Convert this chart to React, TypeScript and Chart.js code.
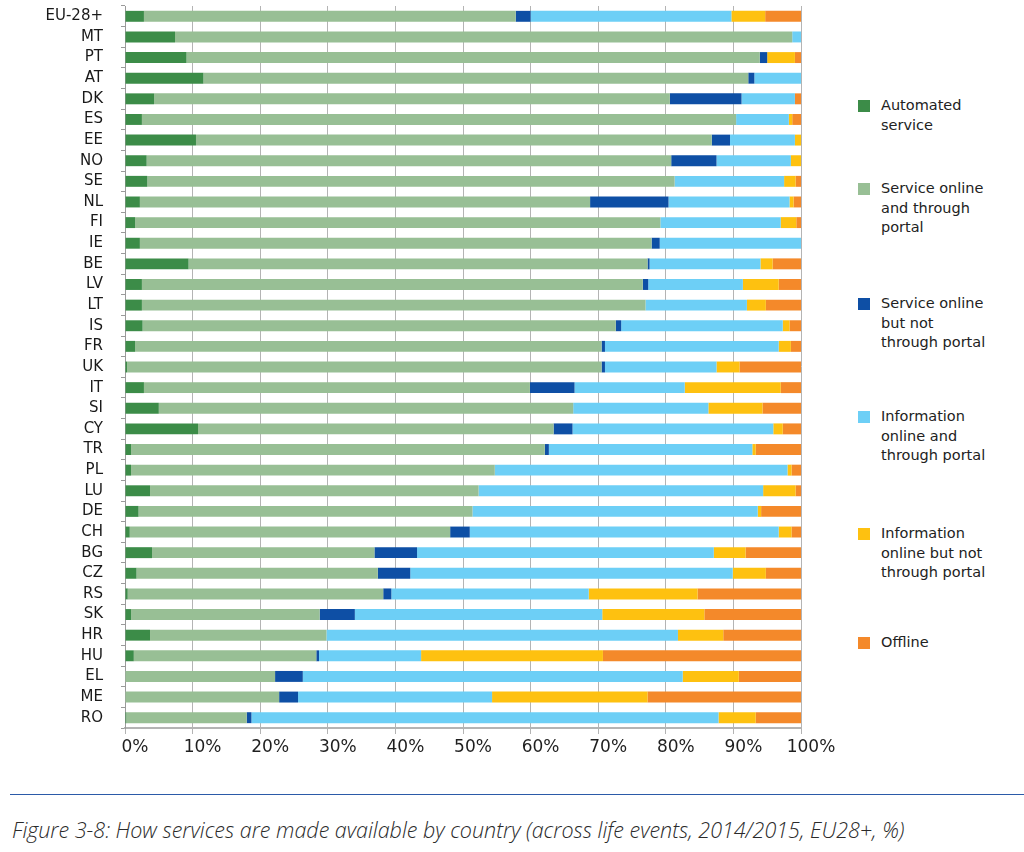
import React, { useEffect, useRef } from "react";
import { Chart, registerables } from "chart.js";

Chart.register(...registerables);

const countries = [
  "EU-28+", "MT", "PT", "AT", "DK", "ES", "EE", "NO", "SE", "NL", "FI", "IE",
  "BE", "LV", "LT", "IS", "FR", "UK", "IT", "SI", "CY", "TR", "PL", "LU", "DE",
  "CH", "BG", "CZ", "RS", "SK", "HR", "HU", "EL", "ME", "RO",
];

const automatedService = [
  2.8, 7.4, 9.1, 11.6, 4.3, 2.5, 10.5, 3.2, 3.3, 2.2, 1.5, 2.2,
  9.4, 2.5, 2.5, 2.6, 1.5, 0.3, 2.8, 5.0, 10.8, 0.9, 0.9, 3.7, 2.0,
  0.7, 4.0, 1.7, 0.4, 0.9, 3.7, 1.3, 0, 0, 0.2,
];
const serviceOnlinePortal = [
  55.0, 91.3, 84.8, 80.6, 76.3, 87.9, 76.3, 77.6, 78.0, 66.6, 77.7, 75.7,
  67.9, 74.1, 74.5, 70.0, 69.0, 70.2, 57.1, 61.3, 52.6, 61.2, 53.8, 48.6, 49.4,
  47.4, 32.9, 35.7, 37.8, 27.9, 26.1, 27.0, 22.2, 22.8, 17.8,
];
const serviceOnlineNoPortal = [
  2.2, 0, 1.1, 0.9, 10.6, 0, 2.7, 6.7, 0, 11.6, 0, 1.2,
  0.3, 0.8, 0, 0.8, 0.5, 0.5, 6.6, 0, 2.8, 0.6, 0, 0, 0,
  2.9, 6.3, 4.8, 1.2, 5.2, 0, 0.4, 4.1, 2.8, 0.7,
];
const infoOnlinePortal = [
  29.7, 1.3, 0, 6.9, 7.9, 7.8, 9.6, 11.0, 16.2, 17.9, 17.8, 20.9,
  16.4, 14.0, 15.0, 23.9, 25.7, 16.5, 16.3, 20.0, 29.7, 30.1, 43.3, 42.1, 42.2,
  45.7, 43.9, 47.7, 29.2, 36.6, 52.0, 15.1, 56.2, 28.7, 69.1,
];
const infoOnlineNoPortal = [
  5.0, 0, 4.1, 0, 0, 0.5, 0.9, 1.5, 1.7, 0.6, 2.3, 0,
  1.8, 5.3, 2.8, 1.0, 1.8, 3.4, 14.2, 8.0, 1.4, 0.5, 0.6, 4.8, 0.5,
  1.9, 4.7, 4.9, 16.1, 15.1, 6.7, 26.9, 8.3, 23.0, 5.5,
];
const offline = [
  5.3, 0, 0.9, 0, 0.9, 1.3, 0, 0, 0.8, 1.1, 0.7, 0,
  4.2, 3.3, 5.2, 1.7, 1.5, 9.1, 3.0, 5.7, 2.7, 6.7, 1.4, 0.8, 5.9,
  1.4, 8.2, 5.2, 15.3, 14.3, 11.5, 29.3, 9.2, 22.7, 6.7,
];

const xTickValues = [0, 10, 20, 30, 40, 50, 60, 70, 80, 90, 100];

const seriesNames = [
  ["Automated", "service"],
  ["Service online", "and through", "portal"],
  ["Service online", "but not", "through portal"],
  ["Information", "online and", "through portal"],
  ["Information", "online but not", "through portal"],
  ["Offline"],
];
const seriesColors = ["#3c8c48", "#98bf95", "#0e4fa5", "#6dcff6", "#fec110", "#f4892a"];
const seriesData = [
  automatedService,
  serviceOnlinePortal,
  serviceOnlineNoPortal,
  infoOnlinePortal,
  infoOnlineNoPortal,
  offline,
];
const legendTops = [106, 189, 304, 417, 534, 643];

const caption =
  "Figure 3-8: How services are made available by country (across life events, 2014/2015, EU28+, %)";

const CANVAS_W = 850;
const CANVAS_H = 780;
const PLOT_LEFT = 125;
const PLOT_RIGHT = 801;
const PLOT_TOP = 6;
const PLOT_BOTTOM = 728;

export default function App() {
  const canvasRef = useRef<HTMLCanvasElement | null>(null);

  useEffect(() => {
    const canvas = canvasRef.current;
    if (!canvas) return;
    const chart = new Chart(canvas, {
      type: "bar",
      data: {
        labels: countries,
        datasets: seriesData.map((d, i) => ({
          label: seriesNames[i].join(" "),
          data: d,
          backgroundColor: seriesColors[i],
          borderWidth: 0,
          barPercentage: 0.53,
          categoryPercentage: 1,
        })),
      },
      options: {
        indexAxis: "y",
        animation: false,
        responsive: false,
        devicePixelRatio: 1,
        layout: {
          padding: { top: PLOT_TOP, right: CANVAS_W - PLOT_RIGHT, left: 0, bottom: 0 },
        },
        plugins: {
          legend: { display: false },
          tooltip: { enabled: false },
        },
        scales: {
          x: {
            stacked: true,
            min: 0,
            max: 100,
            afterBuildTicks: (scale: any) => {
              scale.ticks = xTickValues.map((v) => ({ value: v }));
            },
            afterFit: (scale: any) => {
              scale.height = CANVAS_H - PLOT_BOTTOM;
              scale.paddingLeft = 0;
              scale.paddingRight = 0;
            },
            grid: {
              color: "#b4b4b4",
              lineWidth: 1,
              tickLength: 6,
              drawTicks: true,
            },
            border: { color: "#b4b4b4", width: 2 },
            ticks: {
              padding: 3,
              labelOffset: 10,
              color: "#1f1f1f",
              font: { family: "DejaVu Sans", size: 17 },
              callback: (v: any) => v + "%",
            },
          },
          y: {
            stacked: true,
            afterFit: (scale: any) => {
              scale.width = PLOT_LEFT;
              scale.paddingTop = 0;
              scale.paddingBottom = 0;
            },
            grid: {
              display: true,
              drawOnChartArea: false,
              drawTicks: true,
              tickLength: 4,
              color: "#9a9a9a",
              offset: true,
            },
            border: { color: "#9a9a9a", width: 1 },
            ticks: {
              padding: 18,
              color: "#1a1a1a",
              font: { family: "DejaVu Sans", size: 15 },
              autoSkip: false,
            },
          },
        },
      },
    });
    return () => chart.destroy();
  }, []);

  return (
    <div
      style={{
        position: "absolute",
        left: 0,
        top: 0,
        width: 1024,
        height: 852,
        background: "#ffffff",
        overflow: "hidden",
      }}
    >
      <canvas
        ref={canvasRef}
        width={CANVAS_W}
        height={CANVAS_H}
        style={{ position: "absolute", left: 0, top: 0, width: CANVAS_W, height: CANVAS_H }}
      />
      {seriesNames.map((lines, i) => (
        <div key={i}>
          <div
            style={{
              position: "absolute",
              left: 858,
              top: legendTops[i] - 6,
              width: 12,
              height: 12,
              background: seriesColors[i],
            }}
          />
          <div
            style={{
              position: "absolute",
              left: 881,
              top: legendTops[i] - 10,
              fontFamily: "'DejaVu Sans', sans-serif",
              fontSize: 14.5,
              lineHeight: "19.5px",
              color: "#222222",
              whiteSpace: "nowrap",
            }}
          >
            {lines.map((l, j) => (
              <div key={j}>{l}</div>
            ))}
          </div>
        </div>
      ))}
      <div
        style={{
          position: "absolute",
          left: 10,
          top: 794,
          width: 1014,
          height: 1,
          background: "#2b5aa8",
        }}
      />
      <div
        style={{
          position: "absolute",
          left: 12,
          top: 816,
          fontFamily: "'Open Sans', sans-serif",
          fontStyle: "italic",
          fontWeight: 300,
          fontSize: 21.5,
          lineHeight: "28px",
          color: "#2a2a2a",
          whiteSpace: "nowrap",
        }}
      >
        {caption}
      </div>
    </div>
  );
}
